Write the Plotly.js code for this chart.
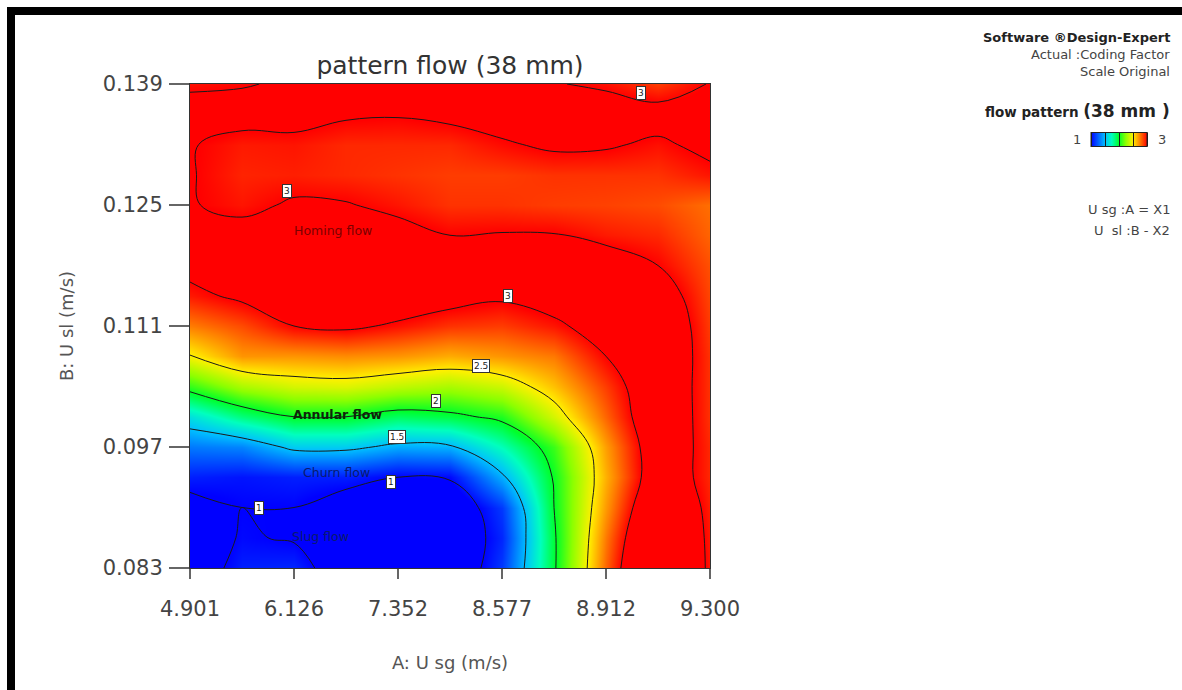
<!DOCTYPE html>
<html>
<head>
<meta charset="utf-8">
<script src="https://cdn.plot.ly/plotly-3.0.1.min.js"></script>
<style>
  html, body { margin: 0; padding: 0; background: #ffffff; overflow: hidden; }
  #wrap { position: relative; width: 1182px; height: 690px; }
  #chart { position: absolute; left: 0; top: 0; width: 1182px; height: 690px; }
  #frame { position: absolute; left: 7px; top: 7px; width: 1220px; height: 720px;
           border: 8px solid #000; pointer-events: none; box-sizing: border-box; }
</style>
</head>
<body>
<div id="wrap">
  <div id="chart"></div>
  <div id="frame"></div>
</div>
<script>
// ---- Data ----
// Coded positions of factor A (equally spaced on the axis) and their tick labels
const xGrid = [0, 0.5, 1, 1.5, 2, 2.5, 3, 3.5, 4, 4.5, 5];
const xTickPos = [0, 1, 2, 3, 4, 5];
const xTickLabels = ['4.901', '6.126', '7.352', '8.577', '8.912', '9.300'];

// Factor B: U sl (m/s)
const yGrid = [0.083, 0.0865, 0.090, 0.0935, 0.097, 0.1005, 0.104, 0.1075, 0.111,
               0.1145, 0.118, 0.1215, 0.125, 0.1285, 0.132, 0.1355, 0.139];
const yTickVals = [0.083, 0.097, 0.111, 0.125, 0.139];
const yTickLabels = ['0.083', '0.097', '0.111', '0.125', '0.139'];

// Flow pattern response (rows = yGrid from bottom to top, columns = xGrid)
const row0083  = [0.85, 1.08, 1.10, 0.85, 0.80, 0.78, 1.15, 1.97, 2.80, 3.50, 2.95];
const row0865  = [0.85, 1.02, 0.98, 0.82, 0.78, 0.78, 1.10, 1.97, 2.76, 3.40, 2.95];
const row0900  = [0.92, 1.00, 1.00, 0.88, 0.85, 0.82, 1.15, 2.00, 2.69, 3.29, 2.94];
const row0935  = [1.08, 1.05, 1.08, 1.08, 1.00, 1.02, 1.46, 2.02, 2.64, 3.17, 2.92];
const row0970  = [1.32, 1.35, 1.55, 1.55, 1.45, 1.47, 1.75, 2.10, 2.68, 3.17, 2.92];
const row1005  = [1.62, 1.85, 2.00, 2.00, 1.90, 1.95, 2.05, 2.40, 2.80, 3.20, 2.90];
const row1040  = [2.08, 2.30, 2.40, 2.42, 2.35, 2.30, 2.38, 2.60, 2.88, 3.19, 2.90];
const row1075  = [2.49, 2.70, 2.70, 2.72, 2.70, 2.65, 2.70, 2.76, 3.00, 3.20, 2.90];
const row1110  = [2.75, 2.85, 3.00, 3.04, 2.97, 2.90, 2.88, 2.96, 3.10, 3.20, 2.88];
const row1145  = [2.95, 3.04, 3.12, 3.15, 3.15, 3.08, 3.03, 3.10, 3.15, 3.12, 2.86];
const row1180  = [3.06, 3.12, 3.15, 3.18, 3.20, 3.18, 3.15, 3.18, 3.10, 3.00, 2.84];
const row1215  = [3.10, 3.06, 3.08, 3.10, 3.06, 3.00, 3.01, 3.01, 2.95, 2.92, 2.80];
const row1250  = [3.01, 2.96, 3.02, 3.01, 2.96, 2.90, 2.90, 2.88, 2.87, 2.85, 2.78];
const row1285  = [3.01, 2.93, 2.94, 2.92, 2.90, 2.88, 2.88, 2.90, 2.90, 2.90, 2.96];
const row1320  = [3.01, 2.95, 2.96, 2.92, 2.92, 2.92, 2.98, 3.03, 3.02, 2.97, 3.05];
const row1355  = [3.08, 3.06, 3.06, 3.02, 3.01, 3.04, 3.08, 3.12, 3.10, 3.08, 3.05];
const row1390  = [2.97, 2.99, 3.02, 3.03, 3.03, 3.02, 3.02, 3.01, 2.97, 2.88, 3.01];

// Contour level labels placed on the lines
const levelLabelText = ['3', '3', '3', '2.5', '2', '1.5', '1', '1'];
const levelLabelX    = [4.337, 0.933, 3.058, 2.798, 2.365, 1.99, 1.933, 0.663];
const levelLabelY    = [0.1380, 0.1266, 0.1145, 0.1064, 0.1023, 0.0982, 0.0930, 0.0899];

// Flow regime names
const regimeText = ['Homing flow', 'Annular flow', 'Churn flow', 'Slug flow'];
const regimeX    = [1.375, 1.423, 1.404, 1.25];
const regimeY    = [0.1221, 0.1008, 0.0941, 0.0866];

// ---- Build figure ----
const zGrid = [row0083, row0865, row0900, row0935, row0970, row1005, row1040, row1075, row1110,
               row1145, row1180, row1215, row1250, row1285, row1320, row1355, row1390];

const rainbow = [
  [0.00, 'rgb(0,0,255)'],
  [0.12, 'rgb(0,90,255)'],
  [0.25, 'rgb(0,190,255)'],
  [0.37, 'rgb(0,255,190)'],
  [0.50, 'rgb(0,255,40)'],
  [0.62, 'rgb(140,255,0)'],
  [0.75, 'rgb(255,240,0)'],
  [0.87, 'rgb(255,130,0)'],
  [1.00, 'rgb(255,0,0)']
];

const trace = {
  type: 'contour',
  x: xGrid,
  y: yGrid,
  z: zGrid,
  zauto: false,
  zmin: 1,
  zmax: 3,
  colorscale: rainbow,
  contours: { start: 1, end: 3, size: 0.5, coloring: 'heatmap', showlabels: false },
  line: { color: '#1a1a1a', width: 1, smoothing: 1.1 },
  hoverinfo: 'skip',
  colorbar: {
    orientation: 'h',
    x: 1.7865, xanchor: 'center',
    y: 0.8843, yanchor: 'middle',
    len: 56, lenmode: 'pixels',
    thickness: 14, thicknessmode: 'pixels',
    xpad: 0, ypad: 0,
    showticklabels: false, ticks: '',
    outlinewidth: 1, outlinecolor: '#222'
  }
};

const annotations = [];
for (let i = 0; i < levelLabelText.length; i++) {
  annotations.push({
    x: levelLabelX[i], y: levelLabelY[i], xref: 'x', yref: 'y',
    text: levelLabelText[i], showarrow: false,
    font: { family: 'DejaVu Sans', size: 9, color: '#222' },
    bgcolor: '#ffffff', bordercolor: '#333', borderwidth: 1, borderpad: 1
  });
}
const regimeColors = ['#7a0000', '#10240a', '#0a1a70', '#0a1a70'];
const regimeBold = [false, true, false, false];
for (let i = 0; i < regimeText.length; i++) {
  annotations.push({
    x: regimeX[i], y: regimeY[i], xref: 'x', yref: 'y',
    text: regimeBold[i] ? '<b>' + regimeText[i] + '</b>' : regimeText[i],
    showarrow: false,
    font: { family: 'DejaVu Sans', size: 12.5, color: regimeColors[i] }
  });
}
// Design-Expert side notes
const sideFont = { family: 'DejaVu Sans', size: 13, color: '#444' };
annotations.push(
  { xref: 'paper', yref: 'paper', x: 1.8885, y: 1.0971, xanchor: 'right', yanchor: 'middle',
    text: '<b>Software ®Design-Expert</b>', showarrow: false,
    font: { family: 'DejaVu Sans', size: 13, color: '#222' } },
  { xref: 'paper', yref: 'paper', x: 1.8885, y: 1.0600, xanchor: 'right', yanchor: 'middle',
    text: 'Actual :Coding Factor', showarrow: false, font: sideFont },
  { xref: 'paper', yref: 'paper', x: 1.8885, y: 1.0250, xanchor: 'right', yanchor: 'middle',
    text: 'Scale Original', showarrow: false, font: sideFont },
  { xref: 'paper', yref: 'paper', x: 1.8885, y: 0.9442, xanchor: 'right', yanchor: 'middle',
    text: '<b>flow pattern <span style="font-size:17px">(38 mm )</span></b>', showarrow: false,
    font: { family: 'DejaVu Sans', size: 13.5, color: '#222' } },
  { xref: 'paper', yref: 'paper', x: 1.7058, y: 0.8843, xanchor: 'center', yanchor: 'middle',
    text: '1', showarrow: false, font: sideFont },
  { xref: 'paper', yref: 'paper', x: 1.8692, y: 0.8843, xanchor: 'center', yanchor: 'middle',
    text: '3', showarrow: false, font: sideFont },
  { xref: 'paper', yref: 'paper', x: 1.8885, y: 0.7397, xanchor: 'right', yanchor: 'middle',
    text: 'U sg :A = X1', showarrow: false, font: sideFont },
  { xref: 'paper', yref: 'paper', x: 1.8885, y: 0.6983, xanchor: 'right', yanchor: 'middle',
    text: 'U  sl :B - X2', showarrow: false, font: sideFont }
);

const layout = {
  width: 1182,
  height: 690,
  margin: { l: 190, r: 472, t: 84, b: 122, pad: 0 },
  paper_bgcolor: '#ffffff',
  plot_bgcolor: '#ffffff',
  showlegend: false,
  title: {
    text: 'pattern flow (38 mm)',
    xref: 'paper', x: 0.5, xanchor: 'center',
    yref: 'container', y: 0.906, yanchor: 'middle',
    font: { family: 'DejaVu Sans', size: 25, color: '#333' }
  },
  xaxis: {
    range: [0, 5],
    tickmode: 'array',
    tickvals: xTickPos,
    ticktext: xTickLabels,
    ticks: 'outside', ticklen: 10, tickwidth: 1.5, tickcolor: '#666',
    ticklabelstandoff: 12,
    tickfont: { family: 'DejaVu Sans', size: 21, color: '#444' },
    showline: true, mirror: true, linecolor: '#333', linewidth: 1,
    showgrid: false, zeroline: false,
    title: { text: 'A: U sg (m/s)', standoff: 36,
             font: { family: 'DejaVu Sans', size: 18, color: '#555' } }
  },
  yaxis: {
    range: [0.083, 0.139],
    tickmode: 'array',
    tickvals: yTickVals,
    ticktext: yTickLabels,
    ticks: 'outside', ticklen: 20, tickwidth: 1.5, tickcolor: '#666',
    ticklabelstandoff: 2,
    tickfont: { family: 'DejaVu Sans', size: 21, color: '#444' },
    showline: true, mirror: true, linecolor: '#333', linewidth: 1,
    showgrid: false, zeroline: false,
    title: { text: 'B: U sl (m/s)', standoff: 24,
             font: { family: 'DejaVu Sans', size: 18, color: '#555' } }
  },
  annotations: annotations
};

Plotly.newPlot('chart', [trace], layout, { displayModeBar: false, staticPlot: true });
</script>
</body>
</html>
